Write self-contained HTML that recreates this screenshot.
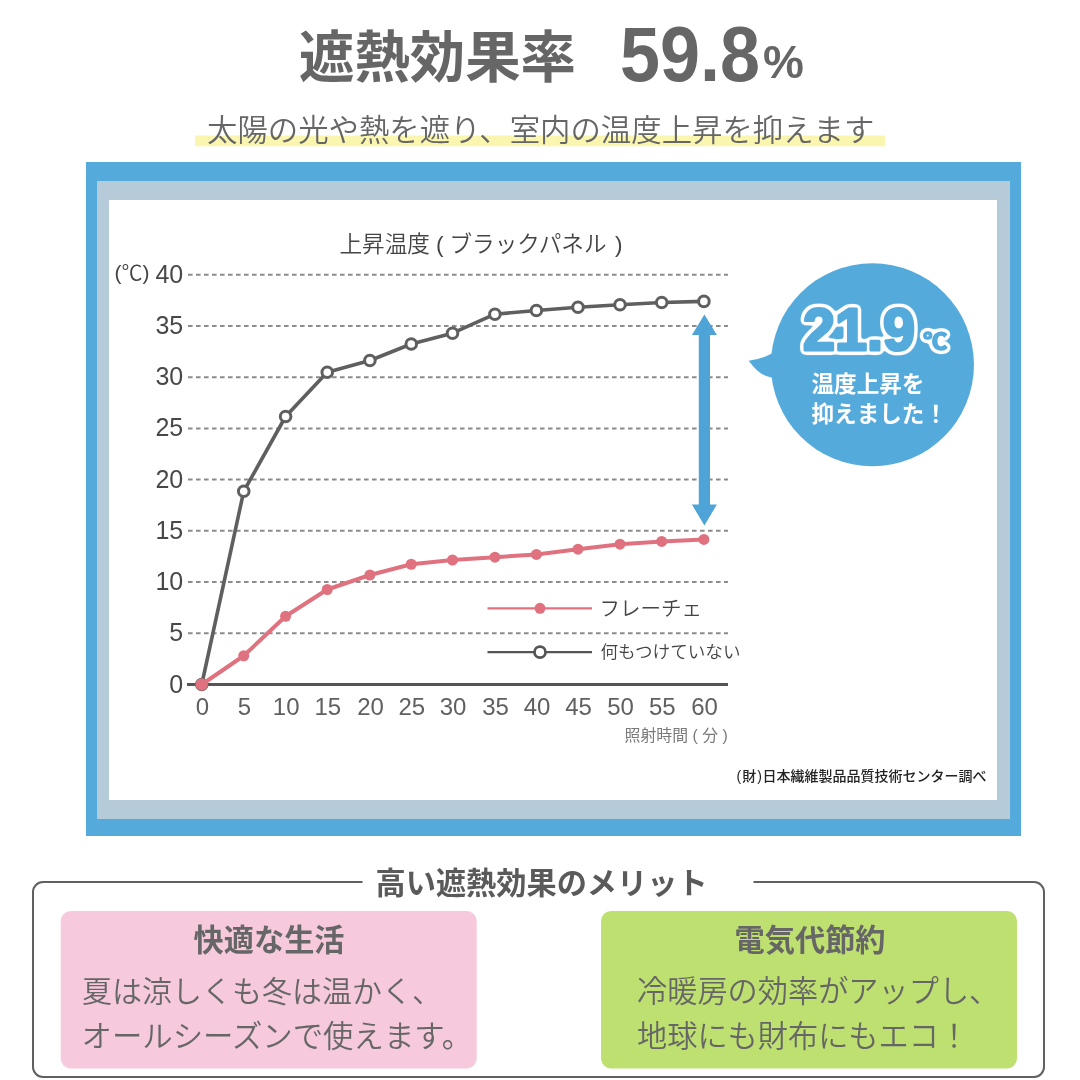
<!DOCTYPE html>
<html lang="ja"><head><meta charset="utf-8"><title>遮熱効果率 59.8%</title>
<style>
html,body{margin:0;padding:0;background:#fff;}
body{width:1080px;height:1080px;overflow:hidden;font-family:"Liberation Sans", "Noto Sans CJK JP", sans-serif;}
svg{display:block;position:absolute;left:0;top:0;}
text{font-family:"Liberation Sans", "Noto Sans CJK JP", sans-serif;}
.l{font-weight:300}.d{font-weight:350}.r{font-weight:400}.m{font-weight:500}.b{font-weight:700}
</style></head><body>
<svg width="1080" height="1080" viewBox="0 0 1080 1080">
<rect width="1080" height="1080" fill="#ffffff"/>
<text class="b" x="299" y="77" font-size="55.4" fill="#666666">遮熱効果率</text>
<text class="b" x="620" y="81" font-size="77" fill="#666666" textLength="140" lengthAdjust="spacingAndGlyphs">59.8</text>
<text class="b" x="763" y="77.6" font-size="46" fill="#666666">%</text>
<rect x="195" y="135.5" width="690" height="10.8" fill="#faf6b0"/>
<text class="d" x="207" y="141" font-size="30.4" fill="#666666">太陽の光や熱を遮り、室内の温度上昇を抑えます</text>
<rect x="86" y="162" width="935" height="674" fill="#55aadc"/>
<rect x="97" y="181" width="913" height="638" fill="#b5cbd9"/>
<rect x="109" y="200" width="888" height="600" fill="#ffffff"/>
<text class="d" y="252" font-size="22.6" fill="#444444"><tspan x="339.5">上昇温度 </tspan><tspan x="436">( </tspan><tspan x="449.5">ブラックパネル </tspan><tspan x="615">)</tspan></text>
<text class="d" x="114.5" y="280.2" font-size="21" fill="#444444">(℃)</text>
<line x1="188" y1="633.28" x2="728" y2="633.28" stroke="#8c8c8c" stroke-width="2" stroke-dasharray="4.6 3.4"/>
<line x1="188" y1="582.06" x2="728" y2="582.06" stroke="#8c8c8c" stroke-width="2" stroke-dasharray="4.6 3.4"/>
<line x1="188" y1="530.84" x2="728" y2="530.84" stroke="#8c8c8c" stroke-width="2" stroke-dasharray="4.6 3.4"/>
<line x1="188" y1="479.62" x2="728" y2="479.62" stroke="#8c8c8c" stroke-width="2" stroke-dasharray="4.6 3.4"/>
<line x1="188" y1="428.40" x2="728" y2="428.40" stroke="#8c8c8c" stroke-width="2" stroke-dasharray="4.6 3.4"/>
<line x1="188" y1="377.18" x2="728" y2="377.18" stroke="#8c8c8c" stroke-width="2" stroke-dasharray="4.6 3.4"/>
<line x1="188" y1="325.96" x2="728" y2="325.96" stroke="#8c8c8c" stroke-width="2" stroke-dasharray="4.6 3.4"/>
<line x1="188" y1="274.74" x2="728" y2="274.74" stroke="#8c8c8c" stroke-width="2" stroke-dasharray="4.6 3.4"/>
<line x1="187" y1="684.5" x2="728" y2="684.5" stroke="#555555" stroke-width="3"/>
<text class="r" x="183.2" y="692.50" font-size="25" fill="#484848" text-anchor="end">0</text>
<text class="r" x="183.2" y="641.28" font-size="25" fill="#484848" text-anchor="end">5</text>
<text class="r" x="183.2" y="590.06" font-size="25" fill="#484848" text-anchor="end">10</text>
<text class="r" x="183.2" y="538.84" font-size="25" fill="#484848" text-anchor="end">15</text>
<text class="r" x="183.2" y="487.62" font-size="25" fill="#484848" text-anchor="end">20</text>
<text class="r" x="183.2" y="436.40" font-size="25" fill="#484848" text-anchor="end">25</text>
<text class="r" x="183.2" y="385.18" font-size="25" fill="#484848" text-anchor="end">30</text>
<text class="r" x="183.2" y="333.96" font-size="25" fill="#484848" text-anchor="end">35</text>
<text class="r" x="183.2" y="282.74" font-size="25" fill="#484848" text-anchor="end">40</text>
<text class="r" x="202.35" y="714.8" font-size="24" fill="#606060" text-anchor="middle">0</text>
<text class="r" x="244.35" y="714.8" font-size="24" fill="#606060" text-anchor="middle">5</text>
<text class="r" x="286.20" y="714.8" font-size="24" fill="#606060" text-anchor="middle">10</text>
<text class="r" x="327.85" y="714.8" font-size="24" fill="#606060" text-anchor="middle">15</text>
<text class="r" x="370.50" y="714.8" font-size="24" fill="#606060" text-anchor="middle">20</text>
<text class="r" x="411.85" y="714.8" font-size="24" fill="#606060" text-anchor="middle">25</text>
<text class="r" x="453.10" y="714.8" font-size="24" fill="#606060" text-anchor="middle">30</text>
<text class="r" x="495.50" y="714.8" font-size="24" fill="#606060" text-anchor="middle">35</text>
<text class="r" x="537.00" y="714.8" font-size="24" fill="#606060" text-anchor="middle">40</text>
<text class="r" x="578.60" y="714.8" font-size="24" fill="#606060" text-anchor="middle">45</text>
<text class="r" x="620.60" y="714.8" font-size="24" fill="#606060" text-anchor="middle">50</text>
<text class="r" x="662.30" y="714.8" font-size="24" fill="#606060" text-anchor="middle">55</text>
<text class="r" x="704.50" y="714.8" font-size="24" fill="#606060" text-anchor="middle">60</text>
<text class="r" x="624.5" y="740.5" font-size="15.9" fill="#7a7a7a">照射時間 ( 分 )</text>
<text class="m" y="781.2" font-size="14" fill="#222222"><tspan x="736.5" textLength="25.5">(財)</tspan><tspan x="762.6">日本繊維製品品質技術センター調べ</tspan></text>
<line x1="487.5" y1="608.3" x2="592" y2="608.3" stroke="#e0727f" stroke-width="2.2"/>
<circle cx="540" cy="608.3" r="5.5" fill="#e0727f"/>
<text class="d" x="599.5" y="616" font-size="20.5" fill="#444444">フレーチェ</text>
<line x1="487.5" y1="652.2" x2="592" y2="652.2" stroke="#555555" stroke-width="2.2"/>
<circle cx="540" cy="652.2" r="5.5" fill="#ffffff" stroke="#555555" stroke-width="2.8"/>
<text class="d" x="600.5" y="658.3" font-size="17.6" fill="#444444">何もつけていない</text>
<polyline points="201.75,684.50 243.75,491.25 285.60,416.50 327.25,372.25 369.90,360.50 411.25,344.00 452.50,333.20 494.90,314.20 536.40,310.50 578.00,307.20 620.00,304.70 661.70,302.50 703.90,301.40" fill="none" stroke="#5f5f5f" stroke-width="3.6" stroke-linejoin="round"/>
<circle cx="201.75" cy="684.50" r="5.3" fill="#ffffff" stroke="#5f5f5f" stroke-width="3"/>
<circle cx="243.75" cy="491.25" r="5.3" fill="#ffffff" stroke="#5f5f5f" stroke-width="3"/>
<circle cx="285.60" cy="416.50" r="5.3" fill="#ffffff" stroke="#5f5f5f" stroke-width="3"/>
<circle cx="327.25" cy="372.25" r="5.3" fill="#ffffff" stroke="#5f5f5f" stroke-width="3"/>
<circle cx="369.90" cy="360.50" r="5.3" fill="#ffffff" stroke="#5f5f5f" stroke-width="3"/>
<circle cx="411.25" cy="344.00" r="5.3" fill="#ffffff" stroke="#5f5f5f" stroke-width="3"/>
<circle cx="452.50" cy="333.20" r="5.3" fill="#ffffff" stroke="#5f5f5f" stroke-width="3"/>
<circle cx="494.90" cy="314.20" r="5.3" fill="#ffffff" stroke="#5f5f5f" stroke-width="3"/>
<circle cx="536.40" cy="310.50" r="5.3" fill="#ffffff" stroke="#5f5f5f" stroke-width="3"/>
<circle cx="578.00" cy="307.20" r="5.3" fill="#ffffff" stroke="#5f5f5f" stroke-width="3"/>
<circle cx="620.00" cy="304.70" r="5.3" fill="#ffffff" stroke="#5f5f5f" stroke-width="3"/>
<circle cx="661.70" cy="302.50" r="5.3" fill="#ffffff" stroke="#5f5f5f" stroke-width="3"/>
<circle cx="703.90" cy="301.40" r="5.3" fill="#ffffff" stroke="#5f5f5f" stroke-width="3"/>
<polyline points="201.75,684.50 243.75,655.75 285.60,616.25 327.25,589.50 369.90,575.00 411.25,564.25 452.50,560.00 494.90,557.20 536.40,554.40 578.00,549.20 620.00,544.20 661.70,541.40 703.90,539.40" fill="none" stroke="#e0727f" stroke-width="4" stroke-linejoin="round"/>
<circle cx="201.75" cy="684.50" r="6.2" fill="#e0727f"/>
<circle cx="243.75" cy="655.75" r="5.5" fill="#e0727f"/>
<circle cx="285.60" cy="616.25" r="5.5" fill="#e0727f"/>
<circle cx="327.25" cy="589.50" r="5.5" fill="#e0727f"/>
<circle cx="369.90" cy="575.00" r="5.5" fill="#e0727f"/>
<circle cx="411.25" cy="564.25" r="5.5" fill="#e0727f"/>
<circle cx="452.50" cy="560.00" r="5.5" fill="#e0727f"/>
<circle cx="494.90" cy="557.20" r="5.5" fill="#e0727f"/>
<circle cx="536.40" cy="554.40" r="5.5" fill="#e0727f"/>
<circle cx="578.00" cy="549.20" r="5.5" fill="#e0727f"/>
<circle cx="620.00" cy="544.20" r="5.5" fill="#e0727f"/>
<circle cx="661.70" cy="541.40" r="5.5" fill="#e0727f"/>
<circle cx="703.90" cy="539.40" r="5.5" fill="#e0727f"/>
<path d="M704.4 314.5 L716.9 335 L710.0 335 L710.0 504.5 L716.9 504.5 L704.4 525.5 L691.9 504.5 L698.8 504.5 L698.8 335 L691.9 335 Z" fill="#4fa4d7"/>
<circle cx="872.4" cy="364.75" r="101.55" fill="#55aadc"/>
<path d="M748.7 360.7 Q760 359.5 771.3 353.7 L790 353 L790 378 L771.3 377.4 Q760 376.3 748.7 360.7 Z" fill="#55aadc"/>
<filter id="ol" x="-40%" y="-40%" width="180%" height="180%" color-interpolation-filters="sRGB"><feMorphology in="SourceAlpha" operator="dilate" radius="1" result="d"/><feGaussianBlur in="d" stdDeviation="2" result="g"/><feComponentTransfer in="g" result="t"><feFuncA type="linear" slope="9" intercept="-0.7"/></feComponentTransfer><feFlood flood-color="#ffffff" result="w"/><feComposite in="w" in2="t" operator="in" result="o"/><feMerge><feMergeNode in="o"/><feMergeNode in="SourceGraphic"/></feMerge></filter>
<text class="b" x="803" y="350.3" font-size="59.5" textLength="112" lengthAdjust="spacingAndGlyphs" stroke-linejoin="round" fill="#55aadc" stroke="#55aadc" stroke-width="3" filter="url(#ol)">21.9</text>
<text class="b" x="923.2" y="348.6" font-size="21.5" textLength="24" lengthAdjust="spacingAndGlyphs" stroke-linejoin="round" fill="#55aadc" stroke="#55aadc" stroke-width="1.6" filter="url(#ol)">℃</text>
<text class="b" x="811.5" y="391.5" font-size="22.6" fill="#ffffff">温度上昇を</text>
<text class="b" x="811.5" y="422" font-size="22.6" fill="#ffffff">抑えました！</text>
<rect x="33" y="882" width="1011" height="194.9" rx="10" ry="10" fill="none" stroke="#606060" stroke-width="2"/>
<rect x="362.5" y="870" width="391" height="28" fill="#ffffff"/>
<text class="b" x="375.5" y="893.8" font-size="30.2" fill="#5a5a5a">高い遮熱効果のメリット</text>
<rect x="60.7" y="911" width="416" height="157.4" rx="10" ry="10" fill="#f6c9dd"/>
<rect x="601" y="911" width="416" height="157.4" rx="10" ry="10" fill="#bee070"/>
<text class="b" x="193.6" y="951.2" font-size="30.2" fill="#666666">快適な生活</text>
<text class="d" x="82" y="1002" font-size="30" fill="#666666">夏は涼しくも冬は温かく、</text>
<text class="d" x="81.5" y="1046.5" font-size="30.4" fill="#666666">オールシーズンで使えます。</text>
<text class="b" x="734.6" y="951.2" font-size="30.2" fill="#666666">電気代節約</text>
<text class="d" x="637" y="1001.5" font-size="30.2" fill="#666666">冷暖房の効率がアップし、</text>
<text class="d" x="637" y="1046.5" font-size="30.2" fill="#666666">地球にも財布にもエコ！</text>
</svg>
</body></html>
